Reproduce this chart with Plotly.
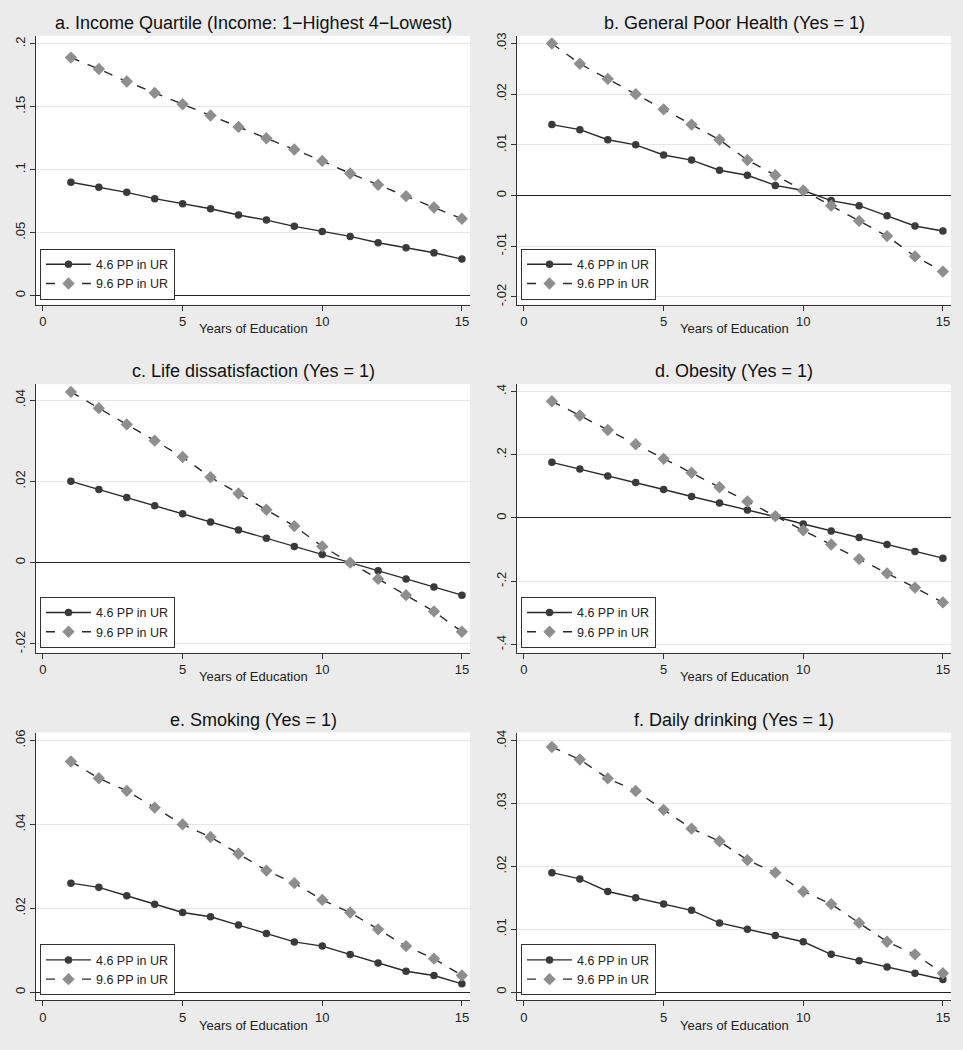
import plotly.graph_objects as go

# ---------------- data ----------------
years = list(range(1, 16))

titles = [
    "a. Income Quartile (Income: 1\u2212Highest 4\u2212Lowest)",
    "b. General Poor Health (Yes = 1)",
    "c. Life dissatisfaction (Yes = 1)",
    "d. Obesity (Yes = 1)",
    "e. Smoking (Yes = 1)",
    "f. Daily drinking (Yes = 1)",
]
series_names = ["4.6 PP in UR", "9.6 PP in UR"]

a_low = [0.090, 0.086, 0.082, 0.077, 0.073, 0.069, 0.064, 0.060, 0.055, 0.051, 0.047, 0.042, 0.038, 0.034, 0.029]
a_high = [0.189, 0.180, 0.170, 0.161, 0.152, 0.143, 0.134, 0.125, 0.116, 0.107, 0.097, 0.088, 0.079, 0.070, 0.061]

b_low = [0.014, 0.013, 0.011, 0.010, 0.008, 0.007, 0.005, 0.004, 0.002, 0.001, -0.001, -0.002, -0.004, -0.006, -0.007]
b_high = [0.030, 0.026, 0.023, 0.020, 0.017, 0.014, 0.011, 0.007, 0.004, 0.001, -0.002, -0.005, -0.008, -0.012, -0.015]

c_low = [0.020, 0.018, 0.016, 0.014, 0.012, 0.010, 0.008, 0.006, 0.004, 0.002, 0.000, -0.002, -0.004, -0.006, -0.008]
c_high = [0.042, 0.038, 0.034, 0.030, 0.026, 0.021, 0.017, 0.013, 0.009, 0.004, 0.000, -0.004, -0.008, -0.012, -0.017]

d_low = [0.176, 0.155, 0.133, 0.112, 0.090, 0.068, 0.047, 0.025, 0.004, -0.019, -0.041, -0.062, -0.084, -0.106, -0.127]
d_high = [0.369, 0.324, 0.278, 0.233, 0.187, 0.143, 0.097, 0.052, 0.006, -0.039, -0.084, -0.130, -0.175, -0.220, -0.267]

e_low = [0.026, 0.025, 0.023, 0.021, 0.019, 0.018, 0.016, 0.014, 0.012, 0.011, 0.009, 0.007, 0.005, 0.004, 0.002]
e_high = [0.055, 0.051, 0.048, 0.044, 0.040, 0.037, 0.033, 0.029, 0.026, 0.022, 0.019, 0.015, 0.011, 0.008, 0.004]

f_low = [0.019, 0.018, 0.016, 0.015, 0.014, 0.013, 0.011, 0.010, 0.009, 0.008, 0.006, 0.005, 0.004, 0.003, 0.002]
f_high = [0.039, 0.037, 0.034, 0.032, 0.029, 0.026, 0.024, 0.021, 0.019, 0.016, 0.014, 0.011, 0.008, 0.006, 0.003]

x_ticks = [0, 5, 10, 15]
x_ticklabels = ["0", "5", "10", "15"]

a_yticks = [0, 0.05, 0.1, 0.15, 0.2]
a_ylabels = ["0", ".05", ".1", ".15", ".2"]
b_yticks = [-0.02, -0.01, 0, 0.01, 0.02, 0.03]
b_ylabels = ["-.02", "-.01", "0", ".01", ".02", ".03"]
c_yticks = [-0.02, 0, 0.02, 0.04]
c_ylabels = ["-.02", "0", ".02", ".04"]
d_yticks = [-0.4, -0.2, 0, 0.2, 0.4]
d_ylabels = ["-.4", "-.2", "0", ".2", ".4"]
e_yticks = [0, 0.02, 0.04, 0.06]
e_ylabels = ["0", ".02", ".04", ".06"]
f_yticks = [0, 0.01, 0.02, 0.03, 0.04]
f_ylabels = ["0", ".01", ".02", ".03", ".04"]

x_title = "Years of Education"

# ---------------- layout geometry ----------------
W, H = 963, 1050
FONT = "Liberation Sans, Arial, Helvetica, sans-serif"

panels = [
    (a_low, a_high, a_yticks, a_ylabels, [-0.0071, 0.2063]),
    (b_low, b_high, b_yticks, b_ylabels, [-0.0215, 0.0315]),
    (c_low, c_high, c_yticks, c_ylabels, [-0.0222, 0.0439]),
    (d_low, d_high, d_yticks, d_ylabels, [-0.4265, 0.423]),
    (e_low, e_high, e_yticks, e_ylabels, [-0.0019, 0.0619]),
    (f_low, f_high, f_yticks, f_ylabels, [-0.0013, 0.0413]),
]

cols_px = [(36, 470), (517, 951)]
rows_px = [(33, 303), (383, 653), (733, 1002)]
legend_left_px = [40, 521]
legend_bottom_px = [298, 648, 997]
title_y_px = [20, 370, 720]
xtitle_y_px = [327, 677, 1027]

fig = go.Figure()
annotations = []
layout_updates = {}

for i, (low, high, yt, yl, yr) in enumerate(panels):
    r, c = divmod(i, 2)
    x0, x1 = cols_px[c]
    y0, y1 = rows_px[r]
    xd = [x0 / W, x1 / W]
    yd = [1 - y1 / H, 1 - y0 / H]
    n = i + 1
    xa = "x" if n == 1 else f"x{n}"
    ya = "y" if n == 1 else f"y{n}"
    leg = "legend" if n == 1 else f"legend{n}"

    fig.add_trace(go.Scatter(
        x=years, y=low, xaxis=xa, yaxis=ya, legend=leg,
        name=series_names[0], mode="lines+markers",
        line=dict(color="#2b2b2b", width=1.4, dash="solid"),
        marker=dict(symbol="circle", size=7.5, color="#3a3a3a"),
    ))
    fig.add_trace(go.Scatter(
        x=years, y=high, xaxis=xa, yaxis=ya, legend=leg,
        name=series_names[1], mode="lines+markers",
        line=dict(color="#2b2b2b", width=1.4, dash="dash"),
        marker=dict(symbol="diamond", size=9.5, color="#8e8e8e"),
    ))

    xkey = "xaxis" if n == 1 else f"xaxis{n}"
    ykey = "yaxis" if n == 1 else f"yaxis{n}"
    layout_updates[xkey] = dict(
        domain=xd, anchor=ya, range=[-0.25, 15.29],
        tickmode="array", tickvals=x_ticks, ticktext=x_ticklabels,
        ticks="outside", ticklen=5, tickwidth=1, tickcolor="#333",
        showline=True, linecolor="#333", linewidth=1,
        showgrid=False, zeroline=False,
        tickfont=dict(family=FONT, size=13, color="#222"),
    )
    layout_updates[ykey] = dict(
        domain=yd, anchor=xa, range=yr,
        tickmode="array", tickvals=yt, ticktext=yl,
        ticks="outside", ticklen=5, tickwidth=1, tickcolor="#333",
        showline=True, linecolor="#333", linewidth=1,
        showgrid=True, gridcolor="#e6e6e6", gridwidth=1.2,
        zeroline=True, zerolinecolor="#222", zerolinewidth=1.2,
        tickangle=-90,
        tickfont=dict(family=FONT, size=13, color="#222"),
    )
    layout_updates[leg] = dict(
        x=legend_left_px[c] / W, y=1 - legend_bottom_px[r] / H,
        xanchor="left", yanchor="bottom",
        bgcolor="white", bordercolor="#333", borderwidth=1,
        font=dict(family=FONT, size=12.5, color="#222"),
        itemwidth=45, tracegroupgap=0,
        orientation="v",
    )

    xc = (x0 + x1) / 2 / W
    annotations.append(dict(
        text=titles[i], x=xc, y=1 - title_y_px[r] / H, xref="paper", yref="paper",
        xanchor="center", yanchor="middle", showarrow=False,
        font=dict(family=FONT, size=18, color="#111"),
    ))
    annotations.append(dict(
        text=x_title, x=xc, y=1 - xtitle_y_px[r] / H, xref="paper", yref="paper",
        xanchor="center", yanchor="middle", showarrow=False,
        font=dict(family=FONT, size=13, color="#222"),
    ))

fig.update_layout(
    width=W, height=H,
    margin=dict(l=0, r=0, t=0, b=0),
    paper_bgcolor="#ebebeb", plot_bgcolor="white",
    showlegend=True,
    annotations=annotations,
    font=dict(family=FONT),
    **layout_updates,
)

fig.write_html(
    "out.html",
    config={"displayModeBar": False},
    post_script="document.body.style.margin='0';document.body.style.background='#ebebeb';",
)
